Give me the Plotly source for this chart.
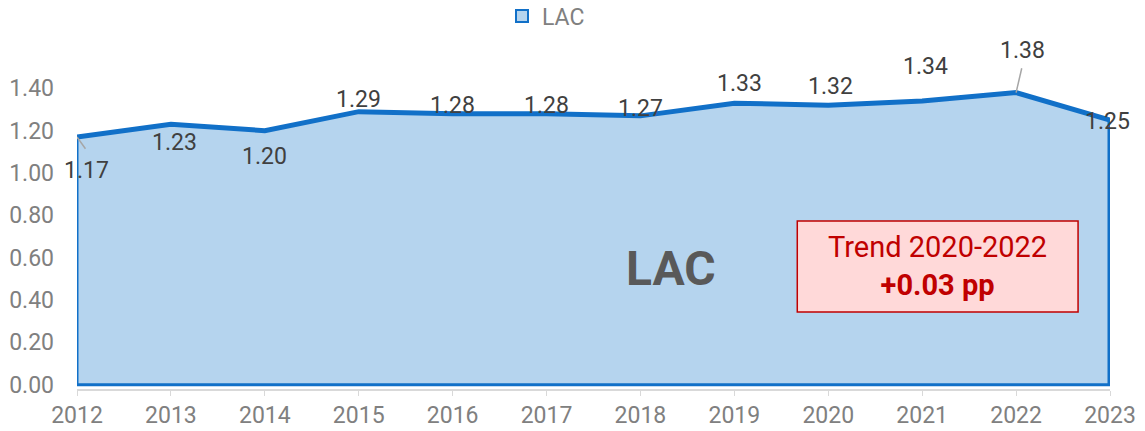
import plotly.graph_objects as go

years = [2012, 2013, 2014, 2015, 2016, 2017, 2018, 2019, 2020, 2021, 2022, 2023]
lac = [1.17, 1.23, 1.20, 1.29, 1.28, 1.28, 1.27, 1.33, 1.32, 1.34, 1.38, 1.25]
y_ticks = [0.0, 0.2, 0.4, 0.6, 0.8, 1.0, 1.2, 1.4]
series_name = "LAC"
trend_title = "Trend 2020-2022"
trend_value = "+0.03 pp"

# label offsets in px (xshift, yshift), one per point
label_shift = [(9, -33), (4, -18), (0, -26), (0, 12), (0, 8), (0, 8), (0, 7),
               (5, 20), (2, 19), (3, 35), (6, 42), (-3, -1)]

BLUE = "#1170c8"
FILL = "#b5d4ee"
GREY = "#808080"

fig = go.Figure()

# closed area polygon down to zero
poly_x = years + [years[-1], years[0], years[0]]
poly_y = lac + [0, 0, lac[0]]
fig.add_trace(go.Scatter(
    x=poly_x, y=poly_y, mode="lines", fill="toself", fillcolor=FILL,
    line=dict(color=BLUE, width=3), showlegend=False, hoverinfo="skip"))
# thick top line, dropping down the right edge
fig.add_trace(go.Scatter(
    x=years + [years[-1]], y=lac + [0], mode="lines",
    line=dict(color=BLUE, width=5), showlegend=False, hoverinfo="skip"))
# legend entry only
fig.add_trace(go.Scatter(
    x=[None], y=[None], mode="markers", name=series_name,
    marker=dict(symbol="square", size=14, color=FILL,
                line=dict(color=BLUE, width=3.5))))

for i, (yr, v) in enumerate(zip(years, lac)):
    dx, dy = label_shift[i]
    fig.add_annotation(x=yr, y=v, text=f"{v:.2f}", showarrow=False,
                       xshift=dx, yshift=dy,
                       font=dict(family="Roboto", size=23, color="#404040"))

# leader lines for first point and 2022
fig.add_shape(type="line", xref="x", yref="y", x0=years[0], y0=lac[0],
              x1=years[0] + 0.09, y1=lac[0] - 0.055,
              line=dict(color="#a6a6a6", width=1.5))
fig.add_shape(type="line", xref="x", yref="y", x0=years[10], y0=lac[10],
              x1=years[10] + 0.06, y1=lac[10] + 0.115,
              line=dict(color="#a6a6a6", width=1.5))

fig.add_annotation(x=2018.32, y=0.55, text="<b>LAC</b>", showarrow=False,
                   font=dict(family="Roboto", size=48, color="#595959"))

fig.add_shape(type="rect", xref="x", yref="y", x0=2019.67, x1=2022.66,
              y0=0.344, y1=0.774, fillcolor="#ffd9d9",
              line=dict(color="#c00000", width=1.5))
fig.add_annotation(x=2021.16, y=0.56,
                   text=f"{trend_title}<br><b>{trend_value}</b>",
                   showarrow=False, align="center",
                   font=dict(family="Roboto", size=29, color="#c00000"))

fig.update_layout(
    width=1145, height=431,
    margin=dict(l=77, r=35, t=46, b=42),
    paper_bgcolor="white", plot_bgcolor="white",
    font=dict(family="Roboto", size=23, color=GREY),
    showlegend=True,
    legend=dict(orientation="h", x=0.454, xanchor="center", yref="container",
                y=0.963, yanchor="middle", font=dict(size=23, color=GREY),
                itemwidth=30, itemsizing="constant"),
)
fig.update_xaxes(range=[years[0], years[-1]], tickvals=years, automargin=False,
                 showgrid=False, showline=True, linecolor="#d9d9d9",
                 linewidth=1.5, ticks="outside", tickcolor="#d9d9d9",
                 ticklen=5, ticklabelstandoff=0,
                 tickfont=dict(size=23, color=GREY), zeroline=False)
fig.update_yaxes(range=[-0.02, 1.6], tickvals=y_ticks, tickformat=".2f",
                 automargin=False, ticklabelstandoff=22,
                 showgrid=False, zeroline=False, showline=False,
                 tickfont=dict(size=23, color=GREY))

# drop the default 8px page margin so the figure fills the window
fig.write_html("out.html", config={"displayModeBar": False},
               post_script="document.body.style.margin='0';")
